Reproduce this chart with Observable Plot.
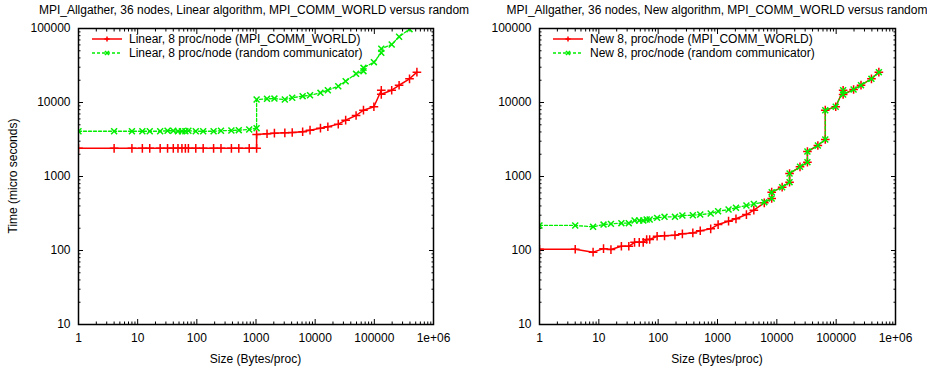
<!DOCTYPE html>
<html>
<head>
<meta charset="utf-8">
<script src="https://cdn.jsdelivr.net/npm/d3@7"></script>
<script src="https://cdn.jsdelivr.net/npm/@observablehq/plot@0.6"></script>
<style>
  html, body { margin: 0; padding: 0; background: #fff; }
  #wrap { position: relative; width: 927px; height: 371px; font-family: 'Liberation Sans', Arial, sans-serif; font-size: 12px; color: #000; }
  .abs { position: absolute; white-space: nowrap; line-height: 14px; }
</style>
</head>
<body>
<div id="wrap"></div>
<script>
// ---------- data ----------
const titles = [
  "MPI_Allgather, 36 nodes, Linear algorithm, MPI_COMM_WORLD versus random",
  "MPI_Allgather, 36 nodes, New algorithm, MPI_COMM_WORLD versus random"
];
const legendLeft = ["Linear, 8 proc/node (MPI_COMM_WORLD)", "Linear, 8 proc/node (random communicator)"];
const legendRight = ["New 8, proc/node (MPI_COMM_WORLD)", "New 8, proc/node (random communicator)"];
const xLabel = "Size (Bytes/proc)";
const yLabel = "Time (micro seconds)";

const xTickValues = [1, 10, 100, 1000, 10000, 100000, 1000000];
const xTickLabels = ["1", "10", "100", "1000", "10000", "100000", "1e+06"];
const yTickValues = [10, 100, 1000, 10000, 100000];
const yTickLabels = ["10", "100", "1000", "10000", "100000"];
const minorSteps = [2, 3, 4, 5, 6, 7, 8, 9];

// Left panel: Linear algorithm
const linWorldX = [1,4,8,12,16,24,32,40,48,56,64,72,96,128,192,256,384,512,768,1024,1024,1536,2048,3072,4096,6144,8192,12288,16384,24576,32768,49152,65536,98304,131072,131072,196608,262144,393216,524288];
const linWorldY = [2400,2400,2400,2400,2400,2400,2400,2400,2400,2400,2400,2400,2400,2400,2400,2400,2400,2400,2400,2400,3700,3780,3850,3890,3930,4020,4230,4500,4700,5100,5770,6670,7870,8750,14650,12900,14650,17100,20900,25700];

const linRandX = [1,4,8,12,16,24,32,40,48,56,64,72,96,128,192,256,384,512,768,1024,1024,1536,2048,3072,4096,6144,8192,12288,16384,24576,32768,49152,65536,65536,98304,131072,131072,196608,262144,393216,524288];
const linRandY = [4090,4090,4090,4090,4090,4090,4150,4150,4090,4090,4090,4150,4090,4090,4090,4150,4190,4230,4320,4500,10970,11200,11300,10970,11600,12170,12550,13500,14650,16600,19400,24400,26500,29400,35100,46900,53200,60800,77300,98000,125000];

// Right panel: New algorithm
const newX = [1,4,8,12,16,24,32,40,48,56,64,72,96,128,192,256,384,512,768,1024,1536,2048,3072,4096,6144,8192,8192,12288,16384,16384,24576,32768,32768,49152,65536,65536,98304,131072,131072,196608,262144,393216,524288];
const newWorldY = [104,104,95,106,103,114,114,129,129,129,141,141,156,158,161,168,173,185,196,224,249,268,306,351,441,505,614,717,838,1096,1352,1561,2177,2625,3162,7870,8750,14660,12830,15000,17140,20900,25700];
const newRandY = [218,218,209,224,229,234,234,254,254,254,262,262,276,285,285,297,300,306,316,339,358,378,405,426,450,505,614,717,838,1096,1352,1561,2177,2625,3162,7870,8750,14660,12830,15000,17140,20900,25700];

const RED = "#ff0000";
const GREEN = "#00ee00";

const rows = (xs, ys) => xs.map((x, i) => ({x, y: ys[i]}));
const minorOf = (majors) => majors.slice(0, -1).flatMap(d => minorSteps.map(k => d * k));

function panel({width, ml, mr, world, rand}) {
  const xMinor = minorOf(xTickValues);
  const yMinor = minorOf(yTickValues);
  const fmtX = d => xTickLabels[xTickValues.indexOf(d)];
  const fmtY = d => yTickLabels[yTickValues.indexOf(d)];
  const blank = () => "";
  return Plot.plot({
    width, height: 371,
    marginLeft: ml, marginRight: mr, marginTop: 28, marginBottom: 47,
    style: {fontFamily: "'Liberation Sans', Arial, sans-serif", fontSize: "12px", color: "#000", background: "#fff"},
    x: {type: "log", domain: [1, 1e6]},
    y: {type: "log", domain: [10, 1e5]},
    marks: [
      // labels
      Plot.axisX({ticks: xTickValues, tickSize: 0, tickPadding: 9, tickFormat: fmtX, label: null, fontSize: 12}),
      Plot.axisY({ticks: yTickValues, tickSize: 0, tickPadding: 8, tickFormat: fmtY, label: null, fontSize: 12}),
      // inward major ticks on all sides
      Plot.axisX({anchor: "bottom", ticks: xTickValues, tickSize: -5, tickFormat: blank, label: null}),
      Plot.axisX({anchor: "top", ticks: xTickValues, tickSize: -5, tickFormat: blank, label: null}),
      Plot.axisY({anchor: "left", ticks: yTickValues, tickSize: -5, tickFormat: blank, label: null}),
      Plot.axisY({anchor: "right", ticks: yTickValues, tickSize: -5, tickFormat: blank, label: null}),
      // inward minor ticks
      Plot.axisX({anchor: "bottom", ticks: xMinor, tickSize: -2.5, tickFormat: blank, label: null}),
      Plot.axisX({anchor: "top", ticks: xMinor, tickSize: -2.5, tickFormat: blank, label: null}),
      Plot.axisY({anchor: "left", ticks: yMinor, tickSize: -2.5, tickFormat: blank, label: null}),
      Plot.axisY({anchor: "right", ticks: yMinor, tickSize: -2.5, tickFormat: blank, label: null}),
      // series (drawn in gnuplot order: MPI_COMM_WORLD first, random on top)
      Plot.line(world, {x: "x", y: "y", stroke: RED, strokeWidth: 1.5, clip: true}),
      Plot.dot(world, {x: "x", y: "y", symbol: "plus", r: 2.9, stroke: RED, strokeWidth: 1.5, clip: true}),
      Plot.line(rand, {x: "x", y: "y", stroke: GREEN, strokeWidth: 1.3, strokeDasharray: "3,2", clip: true}),
      Plot.dot(rand, {x: "x", y: "y", symbol: "times", r: 2.8, stroke: GREEN, strokeWidth: 1.5, clip: true}),
      Plot.frame({stroke: "#000", strokeWidth: 1.5})
    ]
  });
}

function legendSvg(labels) {
  const ns = "http://www.w3.org/2000/svg";
  const svg = document.createElementNS(ns, "svg");
  svg.setAttribute("width", 300); svg.setAttribute("height", 34);
  const styles = [
    {stroke: RED, dash: null, sym: "plus", w: 1.5},
    {stroke: GREEN, dash: "3,2", sym: "times", w: 1.3}
  ];
  labels.forEach((lab, i) => {
    const y = 6 + i * 14;
    const st = styles[i];
    const line = document.createElementNS(ns, "line");
    line.setAttribute("x1", 0); line.setAttribute("x2", 30);
    line.setAttribute("y1", y); line.setAttribute("y2", y);
    line.setAttribute("stroke", st.stroke); line.setAttribute("stroke-width", st.w);
    if (st.dash) line.setAttribute("stroke-dasharray", st.dash);
    svg.appendChild(line);
    const p = document.createElementNS(ns, "path");
    const s = 2.6;
    p.setAttribute("d", st.sym === "plus"
      ? `M${15 - s},${y}H${15 + s}M15,${y - s}V${y + s}`
      : `M${15 - s * 0.8},${y - s * 0.8}L${15 + s * 0.8},${y + s * 0.8}M${15 - s * 0.8},${y + s * 0.8}L${15 + s * 0.8},${y - s * 0.8}`);
    p.setAttribute("stroke", st.stroke); p.setAttribute("stroke-width", 1.5); p.setAttribute("fill", "none");
    svg.appendChild(p);
    const t = document.createElementNS(ns, "text");
    t.setAttribute("x", 37); t.setAttribute("y", y + 4.2);
    t.setAttribute("font-family", "'Liberation Sans', Arial, sans-serif");
    t.setAttribute("font-size", 12);
    t.textContent = lab;
    svg.appendChild(t);
  });
  return svg;
}

const wrap = document.getElementById("wrap");
function place(el, left, top) {
  el.style.position = "absolute"; el.style.left = left + "px"; el.style.top = top + "px";
  wrap.appendChild(el);
}
function textDiv(txt, cx, cy, rotate) {
  const d = document.createElement("div");
  d.className = "abs";
  d.textContent = txt;
  d.style.left = cx + "px"; d.style.top = cy + "px";
  d.style.transform = `translate(-50%, -50%)` + (rotate ? ` rotate(${rotate}deg)` : "");
  wrap.appendChild(d);
}

const left = panel({width: 463, ml: 78, mr: 30, world: rows(linWorldX, linWorldY), rand: rows(linRandX, linRandY)});
const right = panel({width: 464, ml: 76, mr: 32, world: rows(newX, newWorldY), rand: rows(newX, newRandY)});
place(left, 0, 0);
place(right, 463, 0);

place(legendSvg(legendLeft), 92, 33);
place(legendSvg(legendRight), 553, 33);

textDiv(titles[0], 254, 10);
textDiv(titles[1], 717, 10);
textDiv(xLabel, 255.5, 359);
textDiv(xLabel, 717, 359);
textDiv(yLabel, 13, 176, -90);
</script>
</body>
</html>
